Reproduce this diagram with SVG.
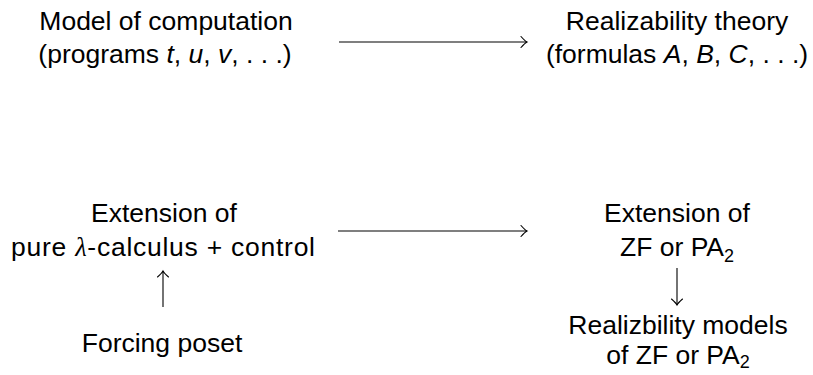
<svg xmlns="http://www.w3.org/2000/svg" width="813" height="375" viewBox="0 0 813 375">
  <style>
    text { font-family: "Liberation Sans", Arial, sans-serif; font-size: 26.5px; fill: #000; text-anchor: middle; }
    .m { font-style: italic; }
    .lam { font-family: "Liberation Serif", serif; font-style: italic; }
    .sub { font-size: 18px; }
    .edge { stroke: #000; stroke-width: 1.1; fill: none; marker-end: url(#to); }
  </style>
  <defs>
    <!-- curved open arrowhead -->
    <marker id="to" markerUnits="userSpaceOnUse" markerWidth="12" markerHeight="14" refX="1" refY="7" orient="auto" overflow="visible">
      <path d="M -5 1.5 Q -1 6 1 7 Q -1 8 -5 12.5" fill="none" stroke="#000" stroke-width="1.1" stroke-linecap="round"/>
    </marker>
  </defs>

  <rect width="813" height="375" fill="#fff"/>

  <g id="model">
    <text x="166" y="30">Model of computation</text>
    <text x="165" y="63">(programs <tspan class="m">t</tspan>, <tspan class="m">u</tspan>, <tspan class="m">v</tspan>, . . .)</text>
  </g>

  <g id="realizability-theory">
    <text x="677" y="30">Realizability theory</text>
    <text x="677" y="63">(formulas <tspan class="m">A</tspan>, <tspan class="m">B</tspan>, <tspan class="m">C</tspan>, . . .)</text>
  </g>

  <g id="lambda-extension">
    <text x="164" y="222">Extension of</text>
    <text x="163" y="256" textLength="304" lengthAdjust="spacing">pure <tspan class="lam">λ</tspan>-calculus  +  control</text>
  </g>

  <g id="zf-extension">
    <text x="677" y="222">Extension of</text>
    <text x="677" y="256">ZF or PA<tspan class="sub" dy="6">2</tspan></text>
  </g>

  <g id="forcing">
    <text x="162" y="352">Forcing poset</text>
  </g>

  <g id="models">
    <text x="678" y="334">Realizbility models</text>
    <text x="678" y="364">of ZF or PA<tspan class="sub" dy="4">2</tspan></text>
  </g>

  <g id="connectors">
    <line class="edge" x1="339" y1="42" x2="527" y2="42"/>
    <line class="edge" x1="338" y1="231" x2="527" y2="231"/>
    <line class="edge" x1="163" y1="307" x2="163" y2="271"/>
    <line class="edge" x1="677" y1="268" x2="677" y2="305"/>
  </g>
</svg>
